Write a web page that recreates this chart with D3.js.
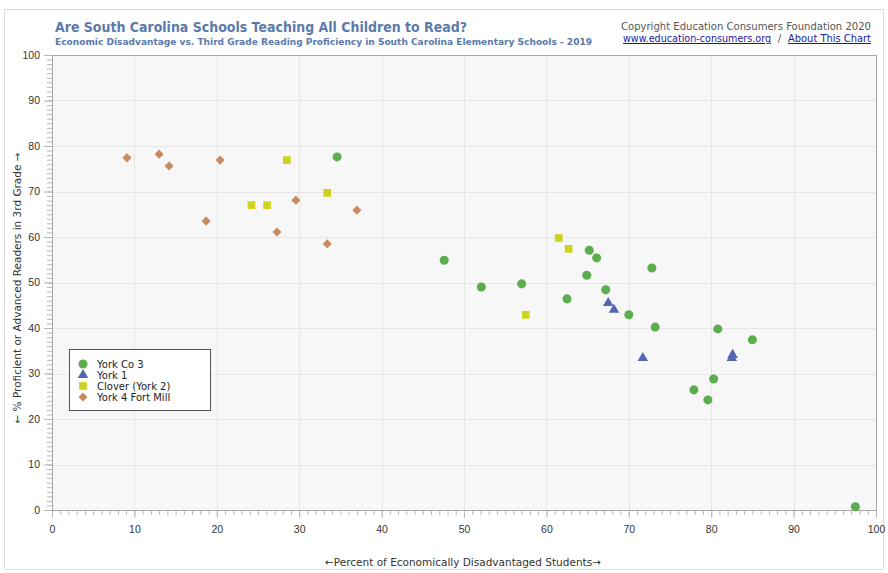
<!DOCTYPE html>
<html>
<head>
<meta charset="utf-8">
<script src="https://cdn.jsdelivr.net/npm/d3@7"></script>
<style>
  body { margin: 0; background: #fff; }
  svg { display: block; font-family: "DejaVu Sans", Verdana, sans-serif; }
</style>
</head>
<body>
<svg id="chart" width="888" height="573"></svg>
<script>
// series data: [percent disadvantaged, percent proficient]
var yorkCo3 = [[34.6,77.6],[47.6,54.9],[52.1,49.0],[57.0,49.7],[65.2,57.1],[66.1,55.4],[64.9,51.6],[62.5,46.4],[67.2,48.4],[72.8,53.2],[70.0,42.9],[73.2,40.2],[80.8,39.8],[85.0,37.4],[77.9,26.4],[80.3,28.8],[79.6,24.2],[97.5,0.7]];
var york1 = [[67.5,45.5],[68.2,44.0],[71.7,33.4],[82.6,34.1],[82.5,33.4]];
var clover = [[28.5,76.9],[24.2,67.0],[26.1,67.0],[33.4,69.7],[61.5,59.8],[62.7,57.4],[57.5,42.9]];
var fortMill = [[9.1,77.4],[13.0,78.2],[14.2,75.6],[20.4,76.9],[18.7,63.5],[27.3,61.1],[29.6,68.1],[33.4,58.5],[37.0,65.9]];

var seriesNames = ['York Co 3', 'York 1', 'Clover (York 2)', 'York 4 Fort Mill'];
var seriesData = [yorkCo3, york1, clover, fortMill];
var seriesColors = ['#5bad4e', '#5468b2', '#ccd420', '#c98a62'];
var seriesShapes = [d3.symbolCircle, d3.symbolTriangle, d3.symbolSquare, d3.symbolSquare];
var seriesSizes = [64, 48, 60, 42];
var seriesRotate = [0, 0, 0, 45];

var xTicks = d3.range(0, 101, 10);
var yTicks = d3.range(0, 101, 10);

var svg = d3.select('#chart');
var plotLeft = 52, plotRight = 876, plotTop = 55, plotBottom = 510;

var x = d3.scaleLinear().domain([0, 100]).range([plotLeft, plotRight]);
var y = d3.scaleLinear().domain([0, 100]).range([plotBottom, plotTop]);

// outer frame
svg.append('rect')
	.attr('x', 4.5).attr('y', 9.5)
	.attr('width', 879).attr('height', 560)
	.attr('fill', '#fff').attr('stroke', '#dcdcdc');

// plot background
svg.append('rect')
	.attr('x', plotLeft).attr('y', plotTop)
	.attr('width', plotRight - plotLeft).attr('height', plotBottom - plotTop)
	.attr('fill', '#f7f7f7');

// grid
svg.append('g').selectAll('line').data(xTicks).enter().append('line')
	.attr('x1', function(d) { return Math.round(x(d)) + 0.5; })
	.attr('x2', function(d) { return Math.round(x(d)) + 0.5; })
	.attr('y1', plotTop).attr('y2', plotBottom)
	.attr('stroke', '#e6e6e6');
svg.append('g').selectAll('line').data(yTicks).enter().append('line')
	.attr('y1', function(d) { return Math.round(y(d)) + 0.5; })
	.attr('y2', function(d) { return Math.round(y(d)) + 0.5; })
	.attr('x1', plotLeft).attr('x2', plotRight)
	.attr('stroke', '#e6e6e6');

// minor ticks
var xMinor = d3.axisBottom(x).ticks(100).tickSize(5).tickFormat('');
var yMinor = d3.axisLeft(y).ticks(100).tickSize(5).tickFormat('');
svg.append('g').attr('transform', 'translate(0,' + plotBottom + ')').call(xMinor);
svg.append('g').attr('transform', 'translate(' + plotLeft + ',0)').call(yMinor);

// major axes
var xAxis = d3.axisBottom(x).tickValues(xTicks).tickSize(8).tickPadding(8);
var yAxis = d3.axisLeft(y).tickValues(yTicks).tickSize(8).tickPadding(4);
svg.append('g').attr('class', 'axis').attr('transform', 'translate(0,' + plotBottom + ')').call(xAxis);
svg.append('g').attr('class', 'axis').attr('transform', 'translate(' + plotLeft + ',0)').call(yAxis);

svg.selectAll('.domain').remove();
svg.selectAll('.tick line').attr('stroke', '#b8b8b8');
svg.selectAll('.axis text').attr('fill', '#333').style('font-size', '10.5px');

// plot border
svg.append('rect')
	.attr('x', plotLeft + 0.5).attr('y', plotTop + 0.5)
	.attr('width', plotRight - plotLeft).attr('height', plotBottom - plotTop)
	.attr('fill', 'none').attr('stroke', '#a8a8a8');

// points
seriesData.forEach(function(data, i) {
	svg.append('g').selectAll('path').data(data).enter().append('path')
		.attr('d', d3.symbol().type(seriesShapes[i]).size(seriesSizes[i]))
		.attr('transform', function(d) {
			return 'translate(' + x(d[0]) + ',' + y(d[1]) + ') rotate(' + seriesRotate[i] + ')';
		})
		.attr('fill', seriesColors[i]);
});

// legend
var legend = svg.append('g').attr('transform', 'translate(69,349)');
legend.append('rect')
	.attr('x', 0.5).attr('y', 0.5).attr('width', 141).attr('height', 61)
	.attr('fill', '#fff').attr('stroke', '#555');
seriesNames.forEach(function(name, i) {
	var ly = 15 + i * 11;
	legend.append('path')
		.attr('d', d3.symbol().type(seriesShapes[i]).size(seriesSizes[i]))
		.attr('transform', 'translate(14,' + ly + ') rotate(' + seriesRotate[i] + ')')
		.attr('fill', seriesColors[i]);
	legend.append('text')
		.attr('x', 28).attr('y', ly + 3.5)
		.attr('fill', '#222').style('font-size', '10px')
		.text(name);
});

// titles
svg.append('text')
	.attr('x', 55).attr('y', 32)
	.attr('fill', '#5a7aab').style('font-size', '14px').style('font-weight', 'bold')
	.attr('textLength', 412).attr('lengthAdjust', 'spacingAndGlyphs')
	.text('Are South Carolina Schools Teaching All Children to Read?');
svg.append('text')
	.attr('x', 55).attr('y', 45)
	.attr('fill', '#5a7aab').style('font-size', '9.5px').style('font-weight', 'bold')
	.attr('textLength', 537).attr('lengthAdjust', 'spacingAndGlyphs')
	.text('Economic Disadvantage vs. Third Grade Reading Proficiency in South Carolina Elementary Schools - 2019');

svg.append('text')
	.attr('x', 871).attr('y', 30).attr('text-anchor', 'end')
	.attr('fill', '#555').style('font-size', '10.5px')
	.attr('textLength', 250).attr('lengthAdjust', 'spacingAndGlyphs')
	.text('Copyright Education Consumers Foundation 2020');

svg.append('text')
	.attr('x', 623).attr('y', 42)
	.attr('fill', '#1a1aa6').attr('text-decoration', 'underline').style('font-size', '10px')
	.attr('textLength', 148).attr('lengthAdjust', 'spacingAndGlyphs')
	.text('www.education-consumers.org');
svg.append('text')
	.attr('x', 779.5).attr('y', 42).attr('text-anchor', 'middle')
	.attr('fill', '#555').style('font-size', '10px')
	.text('/');
svg.append('text')
	.attr('x', 788).attr('y', 42)
	.attr('fill', '#1a1aa6').attr('text-decoration', 'underline').style('font-size', '10px')
	.attr('textLength', 83).attr('lengthAdjust', 'spacingAndGlyphs')
	.text('About This Chart');

// axis titles
svg.append('text')
	.attr('x', 463).attr('y', 566).attr('text-anchor', 'middle')
	.attr('fill', '#333').style('font-size', '10.5px')
	.text('\u2190Percent of Economically Disadvantaged Students\u2192');
svg.append('text')
	.attr('transform', 'translate(21,288) rotate(-90)').attr('text-anchor', 'middle')
	.attr('fill', '#333').style('font-size', '10.5px')
	.text('\u2190 % Proficient or Advanced Readers in 3rd Grade \u2192');
</script>
</body>
</html>
